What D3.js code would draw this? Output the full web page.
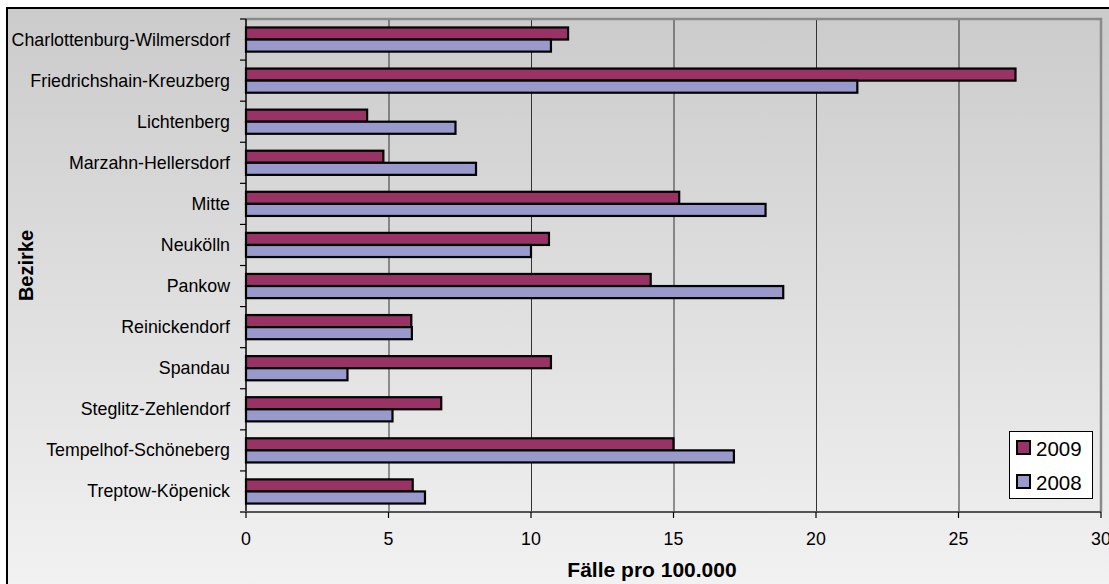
<!DOCTYPE html>
<html><head><meta charset="utf-8">
<script src="https://cdn.jsdelivr.net/npm/d3@7/dist/d3.min.js"></script>
<style>html,body{margin:0;padding:0;background:#fff;}svg{display:block;font-family:"Liberation Sans",Arial,sans-serif;}</style>
</head><body>
<script>
const categories = ["Charlottenburg-Wilmersdorf","Friedrichshain-Kreuzberg","Lichtenberg","Marzahn-Hellersdorf","Mitte","Neukölln","Pankow","Reinickendorf","Spandau","Steglitz-Zehlendorf","Tempelhof-Schöneberg","Treptow-Köpenick"];
const values2009 = [11.3,27.0,4.25,4.82,15.2,10.63,14.2,5.8,10.7,6.85,15.0,5.85];
const values2008 = [10.7,21.45,7.35,8.07,18.23,10.0,18.85,5.82,3.56,5.14,17.12,6.28];
const seriesNames = ["2009","2008"];
const seriesColors = ["#993366","#9999cc"];
const xTicks = [0,5,10,15,20,25,30];
const xTitle = "Fälle pro 100.000";
const yTitle = "Bezirke";

const W=1109,H=584;
const svg=d3.select("body").append("svg").attr("width",W).attr("height",H);
const defs=svg.append("defs");
const g=defs.append("linearGradient").attr("id","bg").attr("x1",0).attr("y1",0).attr("x2",0).attr("y2",1);
g.append("stop").attr("offset","0%").attr("stop-color","#cbcbcb");
g.append("stop").attr("offset","100%").attr("stop-color","#f2f2f2");

svg.append("rect").attr("x",0).attr("y",0).attr("width",W).attr("height",H).attr("fill","#fff");
svg.append("rect").attr("x",7).attr("y",8).attr("width",W).attr("height",H)
  .attr("fill","url(#bg)").attr("stroke","#000").attr("stroke-width",2);

const L=246,R=1101,T=19,B=512;
const x=d3.scaleLinear().domain([0,30]).range([L,R]);
const y=d3.scaleBand().domain(categories).range([T,B]).padding(0);
const step=y.step();
const grp=step/1.7;
const inner=d3.scaleBand().domain(seriesNames).range([0,grp]).padding(0);

// gridlines
svg.append("g").selectAll("line").data(xTicks.filter(d=>d>0&&d<30)).join("line")
  .attr("x1",d=>x(d)+0.5).attr("x2",d=>x(d)+0.5).attr("y1",T).attr("y2",B)
  .attr("stroke","#333").attr("stroke-width",1);
// plot border top/right
svg.append("path").attr("d",`M${L},${T} H${R} V${B}`).attr("fill","none").attr("stroke","#8a8a8a").attr("stroke-width",2.5);

// bars
const data=categories.map((c,i)=>({c,vals:[values2009[i],values2008[i]]}));
const bg=svg.append("g");
data.forEach(d=>{
  const y0=y(d.c)+(step-grp)/2;
  seriesNames.forEach((s,j)=>{
    bg.append("rect").attr("x",x(0)).attr("y",y0+inner(s))
      .attr("width",x(d.vals[j])-x(0)).attr("height",inner.bandwidth())
      .attr("fill",seriesColors[j]).attr("stroke","#000").attr("stroke-width",2.2);
  });
});

// y axis
const ya=svg.append("g");
ya.append("line").attr("x1",L).attr("x2",L).attr("y1",T).attr("y2",B).attr("stroke","#000").attr("stroke-width",1.5);
ya.selectAll("line.t").data(d3.range(categories.length+1)).join("line").attr("class","t")
  .attr("x1",L-6).attr("x2",L).attr("y1",i=>T+i*step).attr("y2",i=>T+i*step).attr("stroke","#000").attr("stroke-width",1.2);
ya.selectAll("text").data(categories).join("text")
  .attr("x",230).attr("y",d=>y(d)+step/2+6).attr("text-anchor","end")
  .attr("font-size",17.8).attr("fill","#000").text(d=>d);

// x axis
const xa=svg.append("g");
xa.append("line").attr("x1",L-6).attr("x2",R).attr("y1",B).attr("y2",B).attr("stroke","#555").attr("stroke-width",2);
xa.selectAll("line.t").data(xTicks).join("line").attr("class","t")
  .attr("x1",d=>x(d)).attr("x2",d=>x(d)).attr("y1",B).attr("y2",B+6).attr("stroke","#000").attr("stroke-width",1.2);
xa.selectAll("text").data(xTicks).join("text")
  .attr("x",d=>x(d)).attr("y",545).attr("text-anchor","middle").attr("font-size",17.8).attr("fill","#000").text(d=>d);

svg.append("text").attr("x",652).attr("y",577).attr("text-anchor","middle")
  .attr("font-size",21).attr("font-weight","bold").text(xTitle);
svg.append("text").attr("transform",`translate(33,${(T+B)/2}) rotate(-90)`).attr("text-anchor","middle")
  .attr("font-size",20).attr("font-weight","bold").text(yTitle);

// legend
const lg=svg.append("g");
lg.append("rect").attr("x",1009.5).attr("y",431.5).attr("width",83).attr("height",67).attr("fill","#fff").attr("stroke","#000").attr("stroke-width",1);
seriesNames.forEach((s,j)=>{
  const yy=441+j*34;
  lg.append("rect").attr("x",1017).attr("y",yy).attr("width",13).attr("height",13)
    .attr("fill",seriesColors[j]).attr("stroke","#000").attr("stroke-width",2);
  lg.append("text").attr("x",1036).attr("y",yy+14.5).attr("font-size",20.5).text(s);
});
</script>
</body></html>
